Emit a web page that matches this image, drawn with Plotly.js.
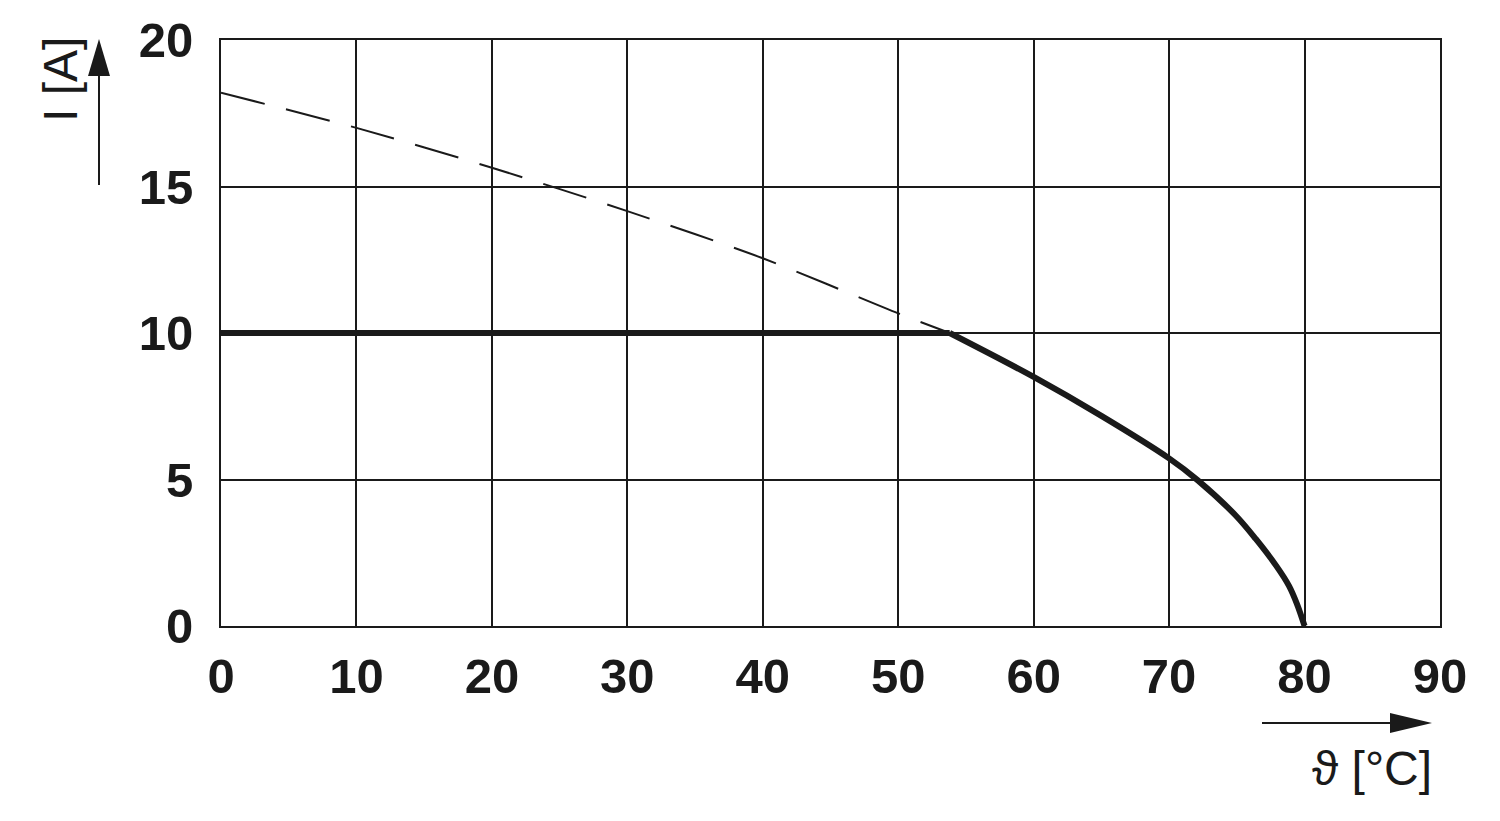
<!DOCTYPE html>
<html>
<head>
<meta charset="utf-8">
<script src="https://cdn.plot.ly/plotly-3.0.1.min.js"></script>
<style>
html,body{margin:0;padding:0;background:#fff;}
#chart{width:1500px;height:821px;}
</style>
</head>
<body>
<div id="chart"></div>
<script>
// Data
var tempTicks = [0, 10, 20, 30, 40, 50, 60, 70, 80, 90];
var currentTicks = [0, 5, 10, 15, 20];

// Dashed (theoretical) curve
var dashedT = [0, 10, 20, 30, 40, 50, 53.8];
var dashedI = [18.2, 17.0, 15.64, 14.16, 12.55, 10.67, 10.0];

// Flat limit of the solid curve
var flatT = [0, 53.8];
var flatI = [10, 10];

// Derating part of the solid curve
var curveT = [53.8, 60, 65, 70, 72.1, 74.9, 76.4, 77.9, 78.85, 79.45, 80];
var curveI = [10.0, 8.5, 7.17, 5.72, 4.98, 3.78, 2.97, 2.06, 1.37, 0.74, 0];

var ink = '#1a1a1a';

var traces = [
  {x: dashedT, y: dashedI, mode: 'lines', line: {color: ink, width: 2, dash: '45px,22px', shape: 'spline', smoothing: 0.8}, hoverinfo: 'skip'},
  {x: flatT, y: flatI, mode: 'lines', line: {color: ink, width: 6}, hoverinfo: 'skip'},
  {x: curveT, y: curveI, mode: 'lines', line: {color: ink, width: 6, shape: 'spline', smoothing: 1}, hoverinfo: 'skip'}
];

function px2x(p){ return (p - 221) / 1219; }
function py2y(p){ return (626 - p) / 586; }

var tickFont = {family: '"Liberation Sans", Arial, sans-serif', size: 49, weight: 'bold', color: ink};

var layout = {
  width: 1500, height: 821,
  margin: {l: 221, r: 60, t: 40, b: 195},
  paper_bgcolor: '#fff', plot_bgcolor: '#fff',
  showlegend: false,
  font: {family: '"Liberation Sans", Arial, sans-serif', color: ink},
  xaxis: {
    range: [0, 90], tickvals: tempTicks, ticktext: tempTicks.map(String),
    showgrid: true, gridcolor: ink, gridwidth: 2,
    showline: true, mirror: true, linecolor: ink, linewidth: 2,
    zeroline: false, ticks: '', ticklabelstandoff: 6,
    tickfont: tickFont, fixedrange: true
  },
  yaxis: {
    range: [0, 20], tickvals: currentTicks, ticktext: currentTicks.map(String),
    showgrid: true, gridcolor: ink, gridwidth: 2,
    showline: true, mirror: true, linecolor: ink, linewidth: 2,
    zeroline: false, ticks: '', ticklabelstandoff: 16,
    tickfont: tickFont, fixedrange: true
  },
  shapes: [
    // y arrow
    {type: 'line', xref: 'paper', yref: 'paper', x0: px2x(99), x1: px2x(99), y0: py2y(185), y1: py2y(74), line: {color: ink, width: 2}},
    {type: 'path', xref: 'paper', yref: 'paper',
     path: 'M' + px2x(99) + ',' + py2y(39) + ' L' + px2x(88) + ',' + py2y(76) + ' L' + px2x(110) + ',' + py2y(76) + ' Z',
     fillcolor: ink, line: {color: ink, width: 0}},
    // x arrow
    {type: 'line', xref: 'paper', yref: 'paper', x0: px2x(1262), x1: px2x(1392), y0: py2y(723), y1: py2y(723), line: {color: ink, width: 2}},
    {type: 'path', xref: 'paper', yref: 'paper',
     path: 'M' + px2x(1432) + ',' + py2y(723) + ' L' + px2x(1390) + ',' + py2y(713) + ' L' + px2x(1390) + ',' + py2y(733) + ' Z',
     fillcolor: ink, line: {color: ink, width: 0}}
  ],
  annotations: [
    {xref: 'paper', yref: 'paper', x: px2x(60), y: py2y(80), text: 'I [A]', showarrow: false, textangle: -90,
     xanchor: 'center', yanchor: 'middle', font: {size: 48, color: ink, family: '"Liberation Sans", Arial, sans-serif'}},
    {xref: 'paper', yref: 'paper', x: px2x(1434), y: py2y(768), text: 'ϑ [°C]', showarrow: false,
     xanchor: 'right', yanchor: 'middle', font: {size: 48, color: ink, family: '"Liberation Sans", Arial, sans-serif'}}
  ]
};

Plotly.newPlot('chart', traces, layout, {staticPlot: true, displayModeBar: false});
</script>
</body>
</html>
